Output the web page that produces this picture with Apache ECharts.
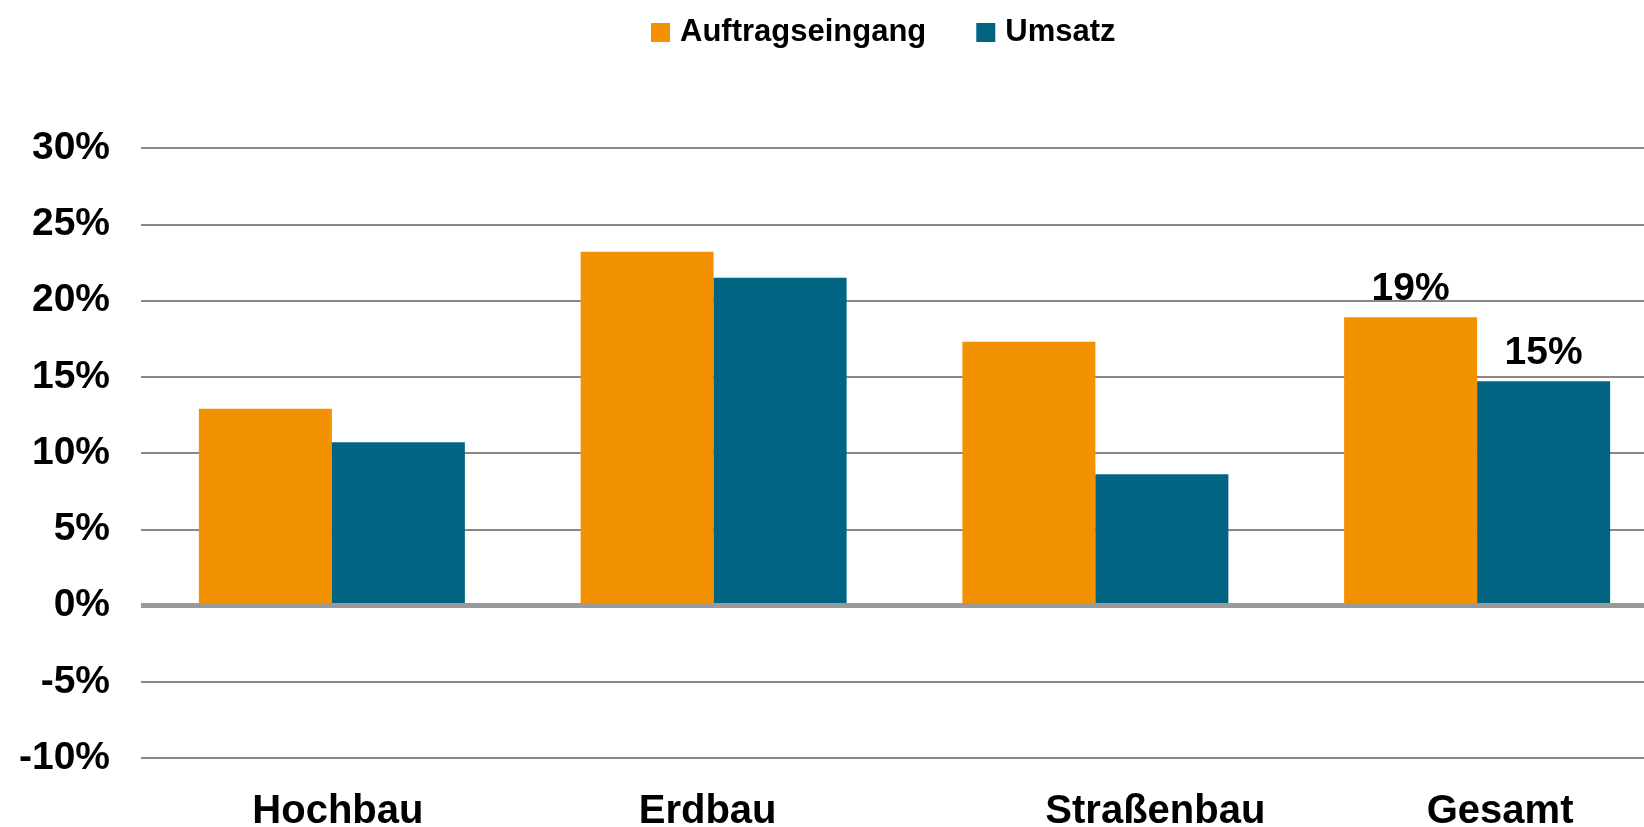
<!DOCTYPE html>
<html>
<head>
<meta charset="utf-8">
<script src="https://cdn.jsdelivr.net/npm/echarts@6/dist/echarts.min.js"></script>
<style>
  html, body { margin: 0; padding: 0; background: #fff; }
  #main { width: 1644px; height: 827px; }
</style>
</head>
<body>
<div id="main"></div>
<script>
// Kategorien und Werte (Veränderung in %)
const categories = ['Hochbau', 'Erdbau', 'Straßenbau', 'Gesamt']
const auftragseingang = [12.9, 23.2, 17.3, 18.9]
const umsatz = [10.7, 21.5, 8.6, 14.7]
// nur die Gesamt-Balken tragen ein Label
const labelShown = [false, false, false, true]

const FONT = "'Liberation Sans', Arial, sans-serif"
const ORANGE = '#f39200'
const BLUE = '#006482'

// Label-Versatz der Kategorien wie im Original
const labelRich = {
  c0: { padding: [0, 0, 0, 12] },
  c1: { padding: [0, 12, 0, 0] },
  c2: { padding: [0, 0, 0, 120] },
  c3: { padding: [0, 0, 0, 46] }
}
Object.keys(labelRich).forEach((k) => {
  Object.assign(labelRich[k], { fontFamily: FONT, fontWeight: 'bold', fontSize: 40, color: '#000' })
})

const barLabel = {
  show: true,
  position: 'top',
  distance: 9,
  fontFamily: FONT,
  fontWeight: 'bold',
  fontSize: 39,
  color: '#000',
  formatter: (p) => Math.round(p.value) + '%'
}

const toData = (arr) => arr.map((v, i) => ({
  value: v,
  label: labelShown[i] ? barLabel : { show: false }
}))

const option = {
  animation: false,
  backgroundColor: '#fff',
  legend: {
    left: 646,
    top: 12,
    itemWidth: 19,
    itemHeight: 19,
    itemGap: 50,
    icon: 'rect',
    textStyle: {
      fontFamily: FONT,
      fontWeight: 'bold',
      fontSize: 31,
      color: '#000',
      padding: [0, 0, 0, 5]
    },
    data: ['Auftragseingang', 'Umsatz']
  },
  grid: {
    left: 141,
    top: 148,
    width: 1527,
    height: 610,
    outerBoundsMode: 'none'
  },
  xAxis: {
    type: 'category',
    data: categories,
    axisLine: { show: false, onZero: false },
    axisTick: { show: false },
    axisLabel: {
      margin: 34,
      formatter: (v) => '{c' + categories.indexOf(v) + '|' + v + '}',
      rich: labelRich
    }
  },
  yAxis: {
    type: 'value',
    min: -10,
    max: 30,
    interval: 5,
    axisLine: { show: false },
    axisTick: { show: false },
    axisLabel: {
      margin: 31,
      formatter: '{value}%',
      fontFamily: FONT,
      fontWeight: 'bold',
      fontSize: 39,
      color: '#000'
    },
    splitLine: {
      lineStyle: { color: '#888888', width: 2 }
    }
  },
  series: [
    {
      name: 'Auftragseingang',
      type: 'bar',
      barWidth: 133,
      barGap: 0,
      itemStyle: { color: ORANGE },
      data: toData(auftragseingang),
      markLine: {
        silent: true,
        symbol: 'none',
        label: { show: false },
        lineStyle: { color: '#9a9a9a', width: 5, type: 'solid' },
        data: [{ yAxis: 0 }]
      }
    },
    {
      name: 'Umsatz',
      type: 'bar',
      barWidth: 133,
      barGap: 0,
      itemStyle: { color: BLUE },
      data: toData(umsatz)
    }
  ]
}

const chart = echarts.init(document.getElementById('main'))
chart.setOption(option)
</script>
</body>
</html>
